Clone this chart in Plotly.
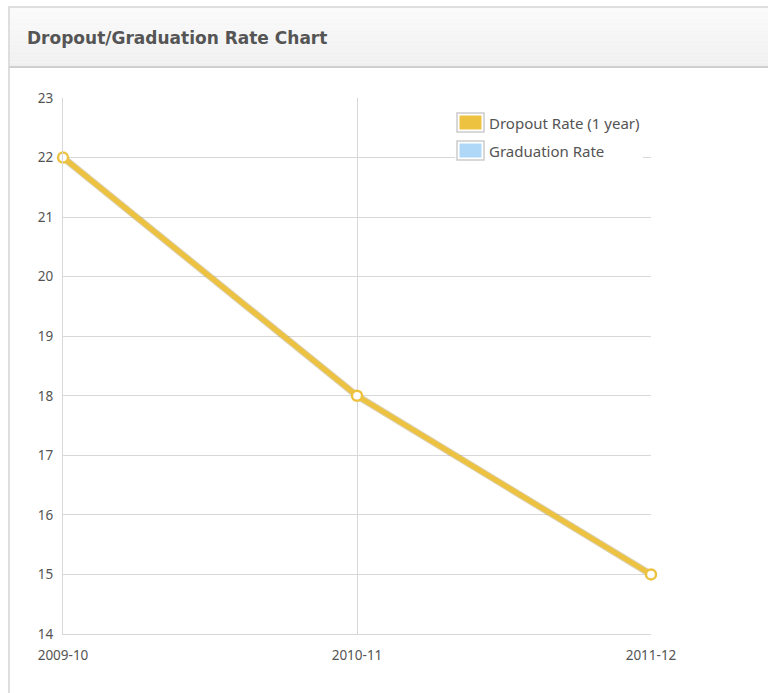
import plotly.graph_objects as go

# Data
years = ["2009-10", "2010-11", "2011-12"]
dropout_rate = [22, 18, 15]
series_names = ["Dropout Rate (1 year)", "Graduation Rate"]
series_colors = ["#EDC240", "#AFD8F8"]
y_ticks = [14, 15, 16, 17, 18, 19, 20, 21, 22, 23]

W, H = 768, 693
TITLE_FONT = "DejaVu Sans"
FONT = "Noto Sans"
TEXT = "#545454"

def px(x):
    return x / W

def py(y):
    return 1 - y / H

fig = go.Figure()

# soft shadow under the series line
fig.add_trace(go.Scatter(
    x=years, y=dropout_rate, mode="lines",
    line=dict(color="rgba(150,120,30,0.35)", width=7),
    showlegend=False, hoverinfo="skip", cliponaxis=False,
))
fig.add_trace(go.Scatter(
    x=years, y=dropout_rate, mode="lines+markers", name=series_names[0],
    line=dict(color=series_colors[0], width=5),
    marker=dict(size=10, color="white", line=dict(color=series_colors[0], width=2.5)),
    showlegend=False, cliponaxis=False,
))

shapes = []
# Panel frame
shapes.append(dict(type="rect", xref="paper", yref="paper",
                   x0=px(9), x1=px(790), y0=py(720), y1=py(7),
                   line=dict(color="#d4d4d4", width=1.5), fillcolor="white", layer="below"))
# Header gradient
bands = 16
top, bot = 8, 66
for i in range(bands):
    y0 = top + (bot - top) * i / bands
    y1 = top + (bot - top) * (i + 1) / bands
    t = i / (bands - 1)
    c = int(round(250 - t * 10))
    shapes.append(dict(type="rect", xref="paper", yref="paper",
                       x0=px(10), x1=px(790), y0=py(y1), y1=py(y0),
                       line=dict(width=0), fillcolor=f"rgb({c},{c},{c})", layer="below"))
shapes.append(dict(type="line", xref="paper", yref="paper",
                   x0=px(9), x1=px(790), y0=py(67), y1=py(67),
                   line=dict(color="#cfcfcf", width=2), layer="below"))

# Legend box
shapes.append(dict(type="rect", xref="paper", yref="paper",
                   x0=px(455), x1=px(643), y0=py(168), y1=py(108),
                   line=dict(width=0), fillcolor="white", layer="above"))
annotations = [dict(text="<b>Dropout/Graduation Rate Chart</b>", xref="paper", yref="paper",
                    x=px(25), y=py(38), xanchor="left", yanchor="middle", showarrow=False,
                    font=dict(family=TITLE_FONT, size=17, color="#555555"))]
for i, (name, col) in enumerate(zip(series_names, series_colors)):
    yt = 113 + i * 28
    shapes.append(dict(type="rect", xref="paper", yref="paper",
                       x0=px(457), x1=px(484), y0=py(yt + 19), y1=py(yt),
                       line=dict(color="#cccccc", width=1.5), fillcolor="white", layer="above"))
    shapes.append(dict(type="rect", xref="paper", yref="paper",
                       x0=px(459.5), x1=px(481.5), y0=py(yt + 16.5), y1=py(yt + 2.5),
                       line=dict(width=0), fillcolor=col, layer="above"))
    annotations.append(dict(text=name, xref="paper", yref="paper",
                            x=px(487), y=py(yt + 10), xanchor="left", yanchor="middle",
                            showarrow=False, font=dict(family=FONT, size=15, color=TEXT)))

grid = "#d8d8d8"
tickfont = dict(family=FONT, size=13.5, color=TEXT)
fig.update_layout(
    width=W, height=H, margin=dict(l=0, r=0, t=0, b=0, autoexpand=False),
    paper_bgcolor="white", plot_bgcolor="rgba(0,0,0,0)",
    shapes=shapes, annotations=annotations, showlegend=False,
    font=dict(family=FONT, size=13, color=TEXT),
    xaxis=dict(domain=[px(63), px(651)], type="category", range=[0, 2], automargin=False,
               showgrid=True, gridcolor=grid, gridwidth=1, zeroline=False,
               showline=True, linecolor=grid, mirror=False,
               ticks="", ticklabelstandoff=9, tickfont=tickfont),
    yaxis=dict(domain=[py(634), py(98)], range=[14, 23], tickvals=y_ticks, automargin=False,
               showgrid=True, gridcolor=grid, gridwidth=1, zeroline=False,
               showline=True, linecolor=grid,
               ticks="", ticklabelstandoff=6, tickfont=tickfont),
)

fig.write_html("out.html")
